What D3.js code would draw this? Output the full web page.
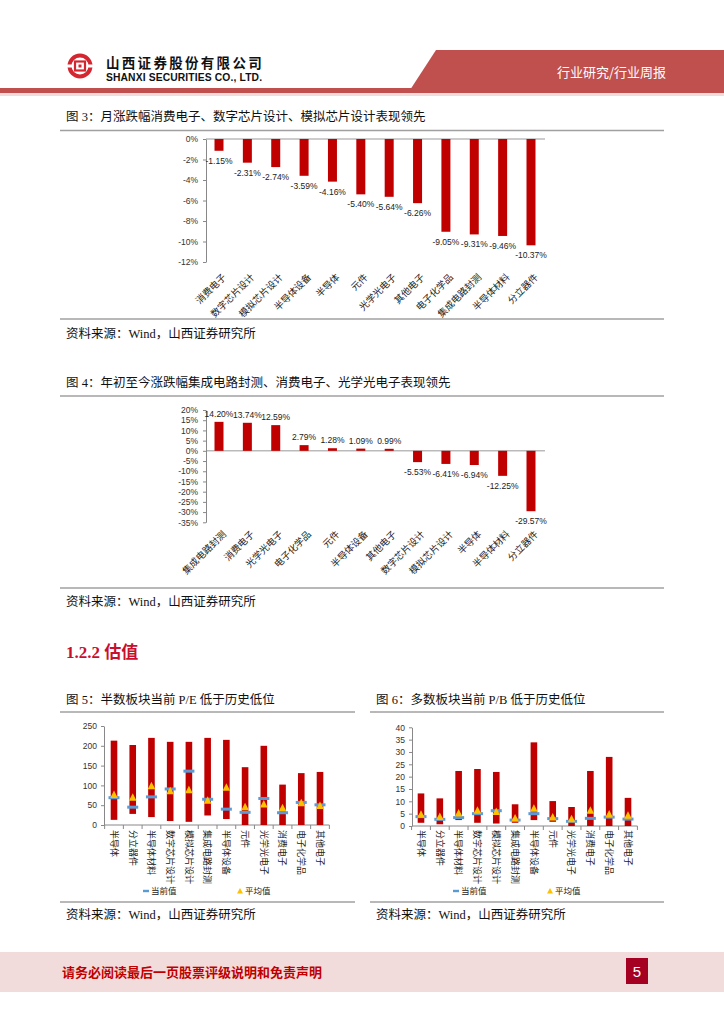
<!DOCTYPE html>
<html><head><meta charset="utf-8">
<script src="https://cdn.jsdelivr.net/npm/d3@7"></script>
<style>body{margin:0;background:#fff} svg{display:block}</style>
</head><body><svg id="c" width="724" height="1024"></svg>
<script>
// ---------- DATA ----------
const fig3Categories = ["消费电子","数字芯片设计","模拟芯片设计","半导体设备","半导体","元件","光学光电子","其他电子","电子化学品","集成电路封测","半导体材料","分立器件"];
const fig3Values = [-1.15,-2.31,-2.74,-3.59,-4.16,-5.40,-5.64,-6.26,-9.05,-9.31,-9.46,-10.37];
const fig3Ticks = [0,-2,-4,-6,-8,-10,-12];

const fig4Categories = ["集成电路封测","消费电子","光学光电子","电子化学品","元件","半导体设备","其他电子","数字芯片设计","模拟芯片设计","半导体","半导体材料","分立器件"];
const fig4Values = [14.20,13.74,12.59,2.79,1.28,1.09,0.99,-5.53,-6.41,-6.94,-12.25,-29.57];
const fig4Ticks = [20,15,10,5,0,-5,-10,-15,-20,-25,-30,-35];

const valuationCategories = ["半导体","分立器件","半导体材料","数字芯片设计","模拟芯片设计","集成电路封测","半导体设备","元件","光学光电子","消费电子","电子化学品","其他电子"];
const peHigh    = [213,202,220,210,210,220,215,146,200,102,131,134];
const peLow     = [13,28,20,10,8,24,15,0,0,0,0,0];
const peCurrent = [69,45,71,91,136,65,40,32,67,31,57,51];
const peAverage = [76,69,98,85,88,61,94,45,52,42,55,48];
const peTicks   = [0,50,100,150,200,250];

const pbHigh    = [13.2,11.2,22.3,23.1,21.9,8.8,33.9,10.1,7.7,22.3,28.0,11.4];
const pbLow     = [1.3,0.7,2.4,1.3,1.0,1.3,2.4,1.7,0,0,0,0];
const pbCurrent = [3.8,2.7,3.4,5.0,6.2,2.4,5.0,3.0,1.9,3.1,3.6,2.8];
const pbAverage = [4.6,3.6,5.1,6.2,5.7,3.0,7.0,3.4,2.7,6.2,4.7,4.2];
const pbTicks   = [0,5,10,15,20,25,30,35,40];

const legendLabels = ["当前值","平均值"];

// ---------- STYLE ----------
const CJK = "'Noto Sans CJK SC','Noto Sans',sans-serif";
const SERIF = "'Liberation Serif','Noto Sans CJK SC',serif";
const SANS = "'Liberation Sans',Arial,sans-serif";
const RED = "#c00000", BLUE = "#5b9bd5", GOLD = "#ffc000", HDR = "#c0504d";

const svg = d3.select("#c");

// ---------- HEADER ----------
svg.append("polygon").attr("points","436,50 724,50 724,90 410,90").attr("fill",HDR);
svg.append("rect").attr("x",0).attr("y",88).attr("width",724).attr("height",5).attr("fill",HDR);
svg.append("rect").attr("x",0).attr("y",93).attr("width",724).attr("height",3).attr("fill","#f2dcdb");
const logo = svg.append("g").attr("transform","translate(80,66)");
logo.append("circle").attr("r",10.5).attr("fill","none").attr("stroke","#d42630").attr("stroke-width",4);
logo.append("rect").attr("x",-14).attr("y",-1.5).attr("width",6).attr("height",3).attr("fill","#fff");
logo.append("rect").attr("x",8).attr("y",-1.5).attr("width",6).attr("height",3).attr("fill","#fff");
logo.append("rect").attr("x",-5).attr("y",-4.5).attr("width",10).attr("height",9).attr("fill","none").attr("stroke","#d42630").attr("stroke-width",2.2);
logo.append("rect").attr("x",-1.5).attr("y",-1.5).attr("width",3).attr("height",3).attr("fill","#d42630");
svg.append("text").attr("x",106).attr("y",68).attr("font-family",CJK).attr("font-weight","bold")
  .attr("font-size",13.5).attr("letter-spacing",2.3).attr("fill","#111").text("山西证券股份有限公司");
svg.append("text").attr("x",106).attr("y",81).attr("font-family",SANS).attr("font-weight","bold")
  .attr("font-size",10.3).attr("fill","#111").attr("textLength",156).text("SHANXI SECURITIES CO., LTD.");
svg.append("text").attr("x",557).attr("y",77).attr("font-family",CJK).attr("font-size",13)
  .attr("fill","#fff").text("行业研究/行业周报");

// ---------- HELPERS ----------
function title(x,y,t){
  svg.append("text").attr("x",x).attr("y",y).attr("font-family",SERIF).attr("font-size",12.5).attr("fill","#111").text(t);
}
function sep(x1,x2,y){
  svg.append("line").attr("x1",x1).attr("x2",x2).attr("y1",y).attr("y2",y).attr("stroke","#a0a0a0").attr("stroke-width",1.5);
}
function source(x,y){
  svg.append("text").attr("x",x).attr("y",y).attr("font-family",SERIF).attr("font-size",12.5).attr("fill","#111").text("资料来源：Wind，山西证券研究所");
}
function styleAxis(g){
  g.select(".domain").attr("stroke","#888");
  g.selectAll(".tick line").attr("stroke","#888");
  g.selectAll(".tick text").attr("font-family",SANS).attr("font-size",8.5).attr("fill","#333");
}

function pctChart(cats, vals, ticks, domain, range, labelY){
  const y = d3.scaleLinear().domain(domain).range(range);
  const x = d3.scalePoint().domain(cats).range([219,531]);
  const g = svg.append("g");
  g.append("line").attr("x1",206).attr("x2",545).attr("y1",y(0)).attr("y2",y(0)).attr("stroke","#999");
  const ax = g.append("g").attr("transform","translate(206,0)")
    .call(d3.axisLeft(y).tickValues(ticks).tickSize(3).tickSizeOuter(0).tickPadding(5).tickFormat(d=>d+"%"));
  styleAxis(ax);
  cats.forEach((c,i)=>{
    const v = vals[i], cx = x(c);
    g.append("rect").attr("x",cx-4.5).attr("width",9)
      .attr("y",Math.min(y(0),y(v))).attr("height",Math.abs(y(v)-y(0))).attr("fill",RED);
    g.append("text").attr("x",cx).attr("y", v>=0 ? y(v)-5 : y(v)+13)
      .attr("text-anchor","middle").attr("font-family",SANS).attr("font-size",8.5).attr("fill","#222")
      .text(v.toFixed(2)+"%");
    g.append("text").attr("transform",`translate(${cx+3},${labelY}) rotate(-45)`)
      .attr("text-anchor","end").attr("dy","0.7em").attr("font-family",CJK).attr("font-size",9.5).attr("fill","#222").text(c);
  });
}

function rangeChart(cats, hi, lo, cur, avg, ticks, domain, yrange, xrange, axisX, legendX){
  const y = d3.scaleLinear().domain(domain).range(yrange);
  const x = d3.scalePoint().domain(cats).range(xrange);
  const step = x.step();
  const g = svg.append("g");
  const x0 = xrange[0]-step/2, x1 = xrange[1]+step/2;
  g.append("line").attr("x1",axisX).attr("x2",x1).attr("y1",y(0)).attr("y2",y(0)).attr("stroke","#888");
  for(let i=0;i<=cats.length;i++){
    const bx = x0+i*step;
    g.append("line").attr("x1",bx).attr("x2",bx).attr("y1",y(0)).attr("y2",y(0)+4).attr("stroke","#888");
  }
  const ax = g.append("g").attr("transform",`translate(${axisX},0)`)
    .call(d3.axisLeft(y).tickValues(ticks).tickSize(3).tickSizeOuter(0).tickPadding(4));
  styleAxis(ax);
  cats.forEach((c,i)=>{
    const cx = x(c);
    g.append("rect").attr("x",cx-3.3).attr("width",6.6).attr("y",y(hi[i])).attr("height",y(lo[i])-y(hi[i])).attr("fill",RED);
  });
  cats.forEach((c,i)=>{
    const cx = x(c);
    g.append("rect").attr("x",cx-5.5).attr("width",11).attr("y",y(cur[i])-1.5).attr("height",3).attr("fill",BLUE);
  });
  cats.forEach((c,i)=>{
    const cx = x(c), cy = y(avg[i]);
    g.append("path").attr("d",`M${cx},${cy-4.5}L${cx+3.8},${cy+3}L${cx-3.8},${cy+3}Z`).attr("fill",GOLD);
    g.append("text").attr("transform",`translate(${cx},830) rotate(90)`).attr("dy","0.35em")
      .attr("font-family",CJK).attr("font-size",9).attr("fill","#222").text(c);
  });
  // legend
  const ly = 891;
  g.append("rect").attr("x",legendX).attr("y",ly-1.2).attr("width",6).attr("height",2.4).attr("fill",BLUE);
  g.append("text").attr("x",legendX+8).attr("y",ly).attr("dy","0.35em").attr("font-family",CJK).attr("font-size",8.5).attr("fill","#222").text(legendLabels[0]);
  const tx = legendX+97;
  g.append("path").attr("d",`M${tx},${ly-3}L${tx+3},${ly+2.5}L${tx-3},${ly+2.5}Z`).attr("fill",GOLD);
  g.append("text").attr("x",tx+5).attr("y",ly).attr("dy","0.35em").attr("font-family",CJK).attr("font-size",8.5).attr("fill","#222").text(legendLabels[1]);
}

// ---------- FIGURE 3 ----------
title(66,121,"图 3：月涨跌幅消费电子、数字芯片设计、模拟芯片设计表现领先");
sep(60,664,130.5);
pctChart(fig3Categories, fig3Values, fig3Ticks, [-12,0], [262,139], 273);
sep(60,664,319);
source(66,338);

// ---------- FIGURE 4 ----------
title(66,387,"图 4：年初至今涨跌幅集成电路封测、消费电子、光学光电子表现领先");
sep(60,664,396);
pctChart(fig4Categories, fig4Values, fig4Ticks, [-35,20], [522.3,410], 530);
sep(60,664,588);
source(66,606);

// ---------- SECTION ----------
svg.append("text").attr("x",66).attr("y",658).attr("font-family",SERIF).attr("font-weight","bold")
  .attr("font-size",17).attr("fill","#c8102e").text("1.2.2  估值");

// ---------- FIGURE 5 / 6 ----------
title(66,704,"图 5：半数板块当前 P/E 低于历史低位");
title(376,704,"图 6：多数板块当前 P/B 低于历史低位");
sep(60,355,712); sep(370,664,712);
rangeChart(valuationCategories, peHigh, peLow, peCurrent, peAverage, peTicks, [0,250], [825,726], [114,320], 104, 143);
rangeChart(valuationCategories, pbHigh, pbLow, pbCurrent, pbAverage, pbTicks, [0,40], [826,727.3], [421,628], 412, 453);
sep(60,355,902); sep(370,664,902);
source(66,919); source(376,919);

// ---------- FOOTER ----------
svg.append("rect").attr("x",0).attr("y",952).attr("width",724).attr("height",40).attr("fill","#f2dcdb");
svg.append("text").attr("x",62).attr("y",977).attr("font-family",CJK).attr("font-weight","bold")
  .attr("font-size",13).attr("fill","#c00000").text("请务必阅读最后一页股票评级说明和免责声明");
svg.append("rect").attr("x",626).attr("y",958).attr("width",22).attr("height",26).attr("fill","#a50021");
svg.append("text").attr("x",637).attr("y",977).attr("text-anchor","middle").attr("font-family",SANS)
  .attr("font-size",15).attr("fill","#fff").text("5");
</script></body></html>
